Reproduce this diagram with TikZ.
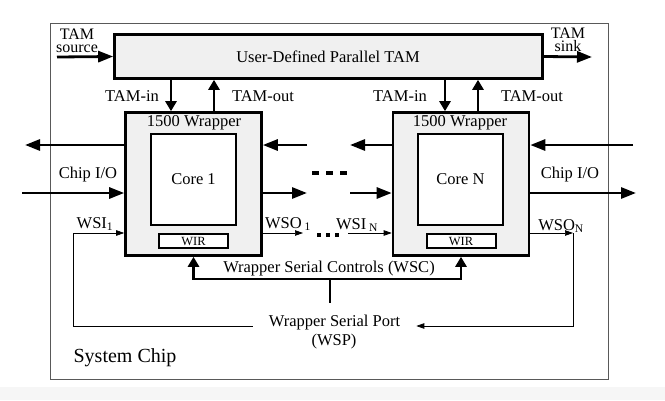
\documentclass[tikz,border=0pt]{standalone}
\usepackage{fontspec}
\setmainfont{Liberation Serif}
\usepackage{tikz}
\usetikzlibrary{positioning}
\usetikzlibrary{arrows.meta}
\tikzset{
    mybox/.style = {rectangle, draw=black, line width=2.6pt, fill=gray!12, inner sep=0pt},
    mycore/.style = {rectangle, draw=black, line width=2.6pt, fill=white, inner sep=0pt, minimum width=85pt, minimum height=91pt, font=\fontsize{16.5}{17}\selectfont},
    mywir/.style = {rectangle, draw=black, line width=2pt, fill=white, inner sep=0pt, minimum width=69pt, minimum height=14pt, font=\fontsize{12.5}{13}\selectfont},
    mytext/.style = {inner sep=0pt, font=\fontsize{16.5}{17}\selectfont},
    bigarrow/.style = {line width=2.8pt, -{Triangle[length=15pt,width=11pt]}},
    tamarrow/.style = {line width=2.8pt, -{Triangle[length=10pt,width=11pt]}},
    thinarrow/.style = {line width=0.7pt, -{Triangle[length=8pt,width=5.5pt]}},
}
\begin{document}
\begin{tikzpicture}[x=1pt, y=-1pt]
  \useasboundingbox (0,0) rectangle (665,400);
  \fill[gray!7] (0,387) rectangle (665,400);
  % system chip
  \draw[gray!70!black, line width=1pt] (50,23) rectangle (608,379);
  \node[mytext, font=\fontsize{20}{22}\selectfont] (chip) at (125,358) {System Chip};

  % TAM
  \node[mybox, minimum width=428pt, minimum height=44pt] (tam) at (328.5,56.5) {};
  \node[mytext] (tamname) at (328,57) {User-Defined Parallel TAM};
  \coordinate (src) at (57,57);
  \coordinate (snk) at (592,57);
  \draw[bigarrow] (src) -- (tam.west);
  \draw[bigarrow] (tam.east) -- (snk);
  \node[mytext, align=center, font=\fontsize{16}{12.5}\selectfont] (srclab) at (77,41) {TAM\\source};
  \node[mytext, align=center, font=\fontsize{16}{12.5}\selectfont] (snklab) at (568,40) {TAM\\sink};

  % wrappers
  \node[mybox, minimum width=136pt, minimum height=143pt] (w1) at (193.5,184) {};
  \node[mycore] (c1) at (193.5,179.5) {Core 1};
  \node[mytext] (w1name) at (194,123) {1500 Wrapper};
  \node[mywir] (wir1) at (193.5,241) {WIR};

  \node[mybox, minimum width=136pt, minimum height=143pt] (wN) at (461,184) {};
  \node[mycore] (cN) at (460.5,179.5) {Core N};
  \node[mytext] (wNname) at (460,123) {1500 Wrapper};
  \node[mywir] (wirN) at (461,241) {WIR};

  % TAM-in / TAM-out
  \coordinate (tin1) at (171,0);
  \coordinate (tout1) at (214,0);
  \coordinate (tinN) at (445,0);
  \coordinate (toutN) at (478,0);
  \draw[tamarrow] (tam.south -| tin1) -- (w1.north -| tin1);
  \draw[tamarrow] (w1.north -| tout1) -- (tam.south -| tout1);
  \draw[tamarrow] (tam.south -| tinN) -- (wN.north -| tinN);
  \draw[tamarrow] (wN.north -| toutN) -- (tam.south -| toutN);
  \node[mytext] (tin1lab) at (132,96) {TAM-in};
  \node[mytext] (tout1lab) at (263,96) {TAM-out};
  \node[mytext] (tinNlab) at (400,96) {TAM-in};
  \node[mytext] (toutNlab) at (532,96) {TAM-out};

  % chip I/O
  \coordinate (io1) at (0,145);
  \coordinate (io2) at (0,193);
  \coordinate (outL) at (25,145);
  \coordinate (inL) at (22,193);
  \coordinate (inM1) at (307,145);
  \coordinate (outM1) at (307,193);
  \coordinate (outM2) at (350,145);
  \coordinate (inM2) at (350,193);
  \coordinate (inR) at (633,145);
  \coordinate (outR) at (636,193);
  \draw[bigarrow] (w1.west |- io1) -- (outL);
  \draw[bigarrow] (inL) -- (w1.west |- io2);
  \draw[bigarrow] (inM1) -- (w1.east |- io1);
  \draw[bigarrow] (w1.east |- io2) -- (outM1);
  \draw[bigarrow] (wN.west |- io1) -- (outM2);
  \draw[bigarrow] (inM2) -- (wN.west |- io2);
  \draw[bigarrow] (inR) -- (wN.east |- io1);
  \draw[bigarrow] (wN.east |- io2) -- (outR);
  \node[mytext] (io1lab) at (88,175) {Chip I/O};
  \node[mytext] (ioNlab) at (570,175) {Chip I/O};
  \draw[line width=4pt, dash pattern=on 7pt off 7pt] (312,173) -- (348,173);

  % serial path
  \coordinate (ser) at (0,233);
  \coordinate (wsiL) at (73,233);
  \coordinate (wso1) at (303,233);
  \coordinate (wsiN) at (348,233);
  \coordinate (wsoR) at (573,233);
  \node[mytext, inner xsep=16pt, anchor=base] (wsp) at (334.5,326) {Wrapper Serial Port};
  \node[mytext] (wspb) at (334,342) {(WSP)};
  \draw[thinarrow] (wsp.base west) -| (wsiL) -- (w1.west |- ser);
  \draw[thinarrow] (w1.east |- ser) -- (wso1);
  \draw[thinarrow] (wsiN) -- (wN.west |- ser);
  \draw[thinarrow] (wN.east |- ser) -- (wsoR);
  \draw[thinarrow] (wsoR) |- (wsp.base east);
  \draw[line width=4pt, dash pattern=on 4pt off 5pt] (317,235) -- (339,235);
  \node[mytext] (wsi1lab) at (95,224) {WSI\textsubscript{1}};
  \node[mytext] (wso1lab) at (288,224) {WSO\,\textsubscript{1}};
  \node[mytext] (wsiNlab) at (357,225) {WSI\,\textsubscript{N}};
  \node[mytext] (wsoNlab) at (561,226) {WSO\textsubscript{N}};

  % serial controls
  \coordinate (wsc) at (330,279);
  \coordinate (wscEnd) at (330,303);
  \draw[line width=2.8pt, {Triangle[length=10pt,width=11pt]}-{Triangle[length=10pt,width=11pt]}] (w1.south) |- (wsc) -| (wN.south);
  \draw[line width=2.8pt] (wsc) -- (wscEnd);
  \node[mytext] (wsclab) at (329,269) {Wrapper Serial Controls (WSC)};
\end{tikzpicture}
\end{document}
